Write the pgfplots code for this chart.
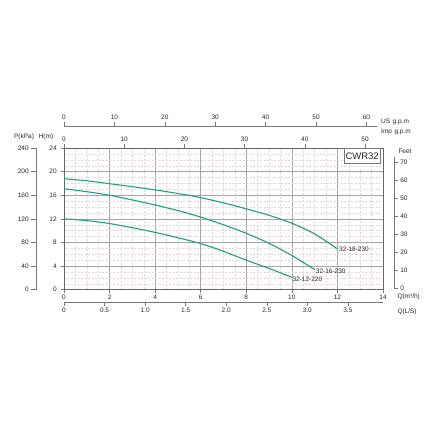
\documentclass[border=0pt]{standalone}
\usepackage{fontspec}
\setmainfont{Liberation Sans}
\usepackage{pgfplots}
\pgfplotsset{compat=1.18}
\definecolor{curve}{RGB}{32,158,138}
\definecolor{axgray}{RGB}{120,120,120}
\definecolor{minorg}{RGB}{228,215,215}
\definecolor{majorg}{RGB}{165,165,165}
\definecolor{txt}{RGB}{40,40,40}
\begin{document}
\fontsize{6.5}{7.5}\selectfont
\begin{tikzpicture}[font=\fontsize{6.5}{7.5}\selectfont, text=txt]
\useasboundingbox (-64pt,-138.3pt) rectangle (364pt,289.7pt);
\pgfplotsset{
  every axis/.append style={scale only axis,
    /pgf/number format/assume math mode=true,
    tick label style={font=\fontsize{6.5}{7.5}\selectfont, text=txt},
    axis line style={axgray, line width=0.6pt}, tick style={axgray, line width=0.5pt}},
}
% main axis
\begin{axis}[at={(0pt,0pt)}, anchor=south west, width=319pt, height=141.7pt,
  xmin=0, xmax=14, ymin=0, ymax=24,
  xtick={0,2,...,14}, ytick={0,4,...,24},
  minor x tick num=3, minor y tick num=3,
  grid=both,
  major grid style={majorg, line width=0.5pt},
  minor grid style={minorg, dash pattern=on 2pt off 1.5pt, line width=0.4pt},
  xtick pos=bottom, ytick pos=left, tick align=outside,
  major tick length=3pt, minor tick length=0pt,
  axis line style={gray!80!black, line width=0.7pt},
  yticklabel style={xshift=-2pt},
]
\addplot[curve, line width=1.1pt, smooth] coordinates {
 (0,18.8) (1,18.45) (2,17.95) (3,17.45) (4,16.9) (5,16.3) (6,15.6) (7,14.7) (8,13.7) (9,12.6) (10,11.25) (11,9.45) (12,6.9)};
\addplot[curve, line width=1.1pt, smooth] coordinates {
 (0,17.1) (1,16.6) (2,16.0) (3,15.2) (4,14.35) (5,13.4) (6,12.3) (7,11.0) (8,9.55) (9,7.85) (10,5.8) (11,3.4)};
\addplot[curve, line width=1.1pt, smooth] coordinates {
 (0,12.0) (1,11.7) (2,11.2) (3,10.5) (4,9.7) (5,8.8) (6,7.8) (7,6.5) (8,5.0) (9,3.6) (10,2.1)};
\end{axis}
% Imp g.p.m axis (top of plot)
\begin{axis}[at={(0pt,0pt)}, anchor=south west, width=319pt, height=141.7pt,
  xmin=0, xmax=52.99, ymin=0, ymax=1,
  axis x line*=top, axis y line=none,
  xtick={0,10,...,50}, ytick=\empty,
  tick align=outside, major tick length=4pt,
  axis line style={draw=none}]
\end{axis}
% US g.p.m axis
\begin{axis}[at={(0pt,163.7pt)}, anchor=north west, width=313pt, height=5pt,
  xmin=0, xmax=62.1, ymin=0, ymax=1,
  axis x line*=top, axis y line=none,
  xtick={0,10,...,60}, ytick=\empty,
  tick align=outside, major tick length=4pt]
\end{axis}
% Q(L/S) axis
\begin{axis}[at={(0pt,-13pt)}, anchor=south west, width=319pt, height=5pt,
  xmin=0, xmax=3.933, ymin=0, ymax=1,
  axis x line*=bottom, axis y line=none,
  xtick={0,0.5,...,3.5}, xticklabels={0,0.5,1.0,1.5,2.0,2.5,3.0,3.5}, ytick=\empty,
  tick align=outside, major tick length=3pt]
\end{axis}
% P(kPa) axis
\begin{axis}[at={(-28pt,0pt)}, anchor=south west, width=5pt, height=141.7pt,
  xmin=0, xmax=1, ymin=0, ymax=240,
  axis y line*=left, axis x line=none,
  ytick={0,40,...,240}, xtick=\empty,
  tick align=outside, major tick length=5pt]
\end{axis}
% Feet axis
\begin{axis}[at={(330pt,1.4pt)}, anchor=south east, width=5pt, height=131.4pt,
  xmin=0, xmax=1, ymin=0, ymax=73,
  axis y line*=right, axis x line=none,
  ytick={0,10,...,70}, xtick=\empty,
  tick align=outside, major tick length=4pt]
\end{axis}
% titles
\node at (-40pt,153pt) {P(kPa)};
\node at (-18pt,153pt) {H(m)};
\node[anchor=west, inner sep=0pt] at (317pt,168pt) {US\hspace{2.5pt}g.p.m};
\node[anchor=west, inner sep=0pt] at (317pt,157.4pt) {Imp\hspace{2.5pt}g.p.m};
\node[anchor=west, inner sep=0pt] at (333.3pt,-7pt) {Q(m³/h)};
\node[anchor=west, inner sep=0pt] at (333.3pt,-22.6pt) {Q(L/S)};
\node at (341pt,138pt) {Feet};
\node[draw=axgray, fill=white, anchor=north east, inner sep=0pt, minimum width=36.7pt, minimum height=15.4pt, font=\fontsize{9.5}{11}\selectfont] at (316.7pt,141.7pt) {CWR32};
% curve labels
\node[anchor=west, inner sep=0pt] at (275pt,40.2pt) {32-18-230};
\node[anchor=west, inner sep=0pt] at (251.7pt,18pt) {32-16-230};
\node[anchor=west, inner sep=0pt] at (228.3pt,10.4pt) {32-12-220};
\end{tikzpicture}
\end{document}
